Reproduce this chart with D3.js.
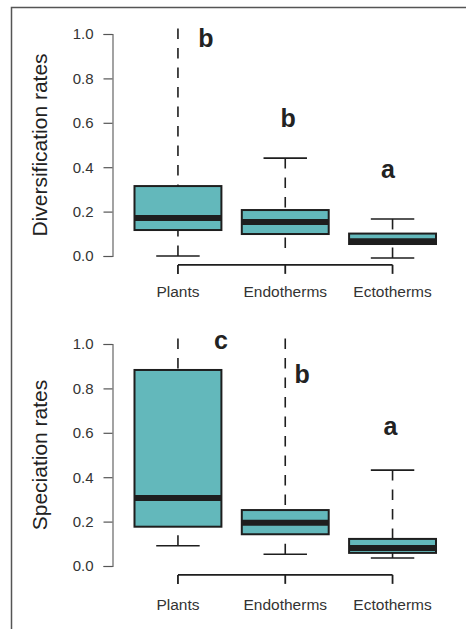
<!DOCTYPE html>
<html>
<head>
<meta charset="utf-8">
<script src="https://cdn.jsdelivr.net/npm/d3@7"></script>
<style>
body { margin: 0; background: #fff; }
svg { display: block; font-family: "Liberation Sans", Arial, sans-serif; }
</style>
</head>
<body>
<svg id="chart" width="466" height="629"></svg>
<script>
var categories = ["Plants", "Endotherms", "Ectotherms"];
var yTicks = [0, 0.2, 0.4, 0.6, 0.8, 1.0];

// diversification rates
var divLower = [0.0, 0.036, -0.009];
var divQ1 = [0.117, 0.099, 0.054];
var divMedian = [0.171, 0.153, 0.066];
var divQ3 = [0.315, 0.207, 0.101];
var divUpper = [1.2, 0.441, 0.167];
var divLowerCap = [true, false, true];
var divLetters = ["b", "b", "a"];
var divLetterY = [0.94, 0.58, 0.35];

// speciation rates
var speLower = [0.091, 0.053, 0.036];
var speQ1 = [0.177, 0.143, 0.059];
var speMedian = [0.306, 0.195, 0.081];
var speQ3 = [0.883, 0.252, 0.122];
var speUpper = [1.2, 1.2, 0.432];
var speLowerCap = [true, true, true];
var speLetters = ["c", "b", "a"];
var speLetterY = [0.977, 0.824, 0.59];

var svg = d3.select("#chart");
var fillCol = "#63b8bb";
var dark = "#1e1e1e";

// frame (only top and left show in the figure)
svg.append("path")
    .attr("d", "M11.5,629 L11.5,7.5 L466,7.5")
    .attr("fill", "none")
    .attr("stroke", "#555")
    .attr("stroke-width", 1.5);

var x = d3.scaleBand()
    .domain(categories)
    .range([124.3, 446.2])
    .padding(0);

function drawPanel(id, top, title, lower, q1, med, q3, upper, lowerCap, letters, letterY, letterDx, labelDy) {
    var y = d3.scaleLinear().domain([0, 1]).range([top + 222, top]);
    var g = svg.append("g");

    svg.append("clipPath").attr("id", id)
        .append("rect")
        .attr("x", 100).attr("y", y(1.04))
        .attr("width", 366).attr("height", y(-0.04) - y(1.04));

    // y axis
    var yAxis = g.append("g")
        .attr("transform", "translate(112.5,0)")
        .call(d3.axisLeft(y).tickValues(yTicks).tickFormat(d3.format(".1f")).tickSizeOuter(0).tickSize(9).tickPadding(10));
    yAxis.select(".domain").attr("stroke", "#666").attr("stroke-width", 1.2);
    yAxis.selectAll(".tick line").attr("stroke", "#555").attr("stroke-width", 1.2);
    yAxis.selectAll(".tick text")
        .attr("fill", "#333")
        .style("font-size", "15px")
        .style("font-family", "Liberation Sans, Arial, sans-serif");

    // y title
    g.append("text")
        .attr("transform", "translate(47," + y(0.5) + ") rotate(-90)")
        .attr("text-anchor", "middle")
        .attr("fill", "#222")
        .style("font-size", "21px")
        .text(title);

    // x axis, R style: from first to last tick, below plot
    var axY = y(-0.04);
    var xAxis = g.append("g")
        .attr("transform", "translate(0," + axY + ")")
        .call(d3.axisBottom(x).tickSize(9).tickSizeOuter(0).tickPadding(0));
    xAxis.select(".domain").remove();
    xAxis.append("line")
        .attr("x1", x(categories[0]) + x.bandwidth() / 2)
        .attr("x2", x(categories[2]) + x.bandwidth() / 2)
        .attr("stroke", dark)
        .attr("stroke-width", 1.8);
    xAxis.selectAll(".tick line").attr("stroke", dark).attr("stroke-width", 1.8);
    xAxis.selectAll(".tick text")
        .attr("y", labelDy)
        .attr("dy", 0)
        .attr("fill", "#333")
        .style("font-size", "15.5px")
        .style("font-family", "Liberation Sans, Arial, sans-serif");

    var boxW = x.bandwidth() * 0.81;
    var plot = g.append("g").attr("clip-path", "url(#" + id + ")");

    categories.forEach(function(c, i) {
        var cx = x(c) + x.bandwidth() / 2;
        // whiskers, drawn from the end toward the box like R does
        plot.append("line")
            .attr("x1", cx).attr("x2", cx)
            .attr("y1", y(upper[i])).attr("y2", y(q3[i]))
            .attr("stroke", dark).attr("stroke-width", 1.6)
            .attr("stroke-dasharray", "10.5,9");
        plot.append("line")
            .attr("x1", cx).attr("x2", cx)
            .attr("y1", y(lower[i])).attr("y2", y(q1[i]))
            .attr("stroke", dark).attr("stroke-width", 1.6)
            .attr("stroke-dasharray", "10.5,9");
        // caps
        if (upper[i] <= 1.04) {
            plot.append("line")
                .attr("x1", cx - boxW / 4).attr("x2", cx + boxW / 4)
                .attr("y1", y(upper[i])).attr("y2", y(upper[i]))
                .attr("stroke", dark).attr("stroke-width", 1.6);
        }
        if (lowerCap[i]) {
            plot.append("line")
                .attr("x1", cx - boxW / 4).attr("x2", cx + boxW / 4)
                .attr("y1", y(lower[i])).attr("y2", y(lower[i]))
                .attr("stroke", dark).attr("stroke-width", 1.6);
        }
        // box
        plot.append("rect")
            .attr("x", cx - boxW / 2)
            .attr("y", y(q3[i]))
            .attr("width", boxW)
            .attr("height", y(q1[i]) - y(q3[i]))
            .attr("fill", fillCol)
            .attr("stroke", dark)
            .attr("stroke-width", 2);
        // median
        plot.append("line")
            .attr("x1", cx - boxW / 2).attr("x2", cx + boxW / 2)
            .attr("y1", y(med[i])).attr("y2", y(med[i]))
            .attr("stroke", dark).attr("stroke-width", 6);
        // significance letter
        g.append("text")
            .attr("x", cx + letterDx[i])
            .attr("y", y(letterY[i]))
            .attr("text-anchor", "middle")
            .attr("fill", "#222")
            .style("font-size", "25px")
            .style("font-weight", "bold")
            .text(letters[i]);
    });
}

drawPanel("clipTop", 34, "Diversification rates", divLower, divQ1, divMedian, divQ3, divUpper, divLowerCap, divLetters, divLetterY, [28, 3, -4.5], 32);
drawPanel("clipBot", 344, "Speciation rates", speLower, speQ1, speMedian, speQ3, speUpper, speLowerCap, speLetters, speLetterY, [43, 17, -2], 35);
</script>
</body>
</html>
